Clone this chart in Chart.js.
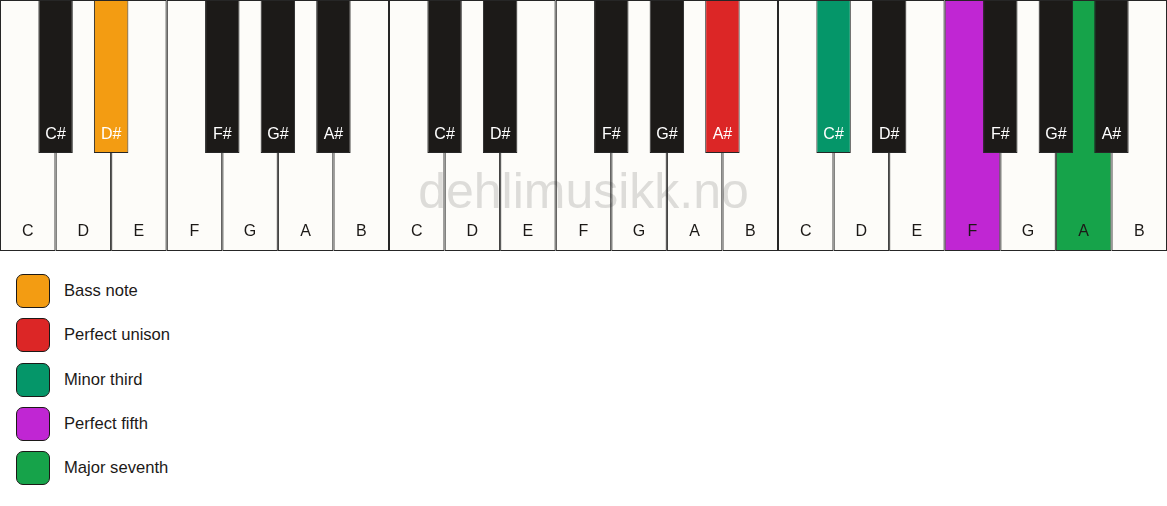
<!DOCTYPE html>
<html>
<head>
<meta charset="utf-8">
<title>Piano chord</title>
<script src="https://cdn.jsdelivr.net/npm/chart.js@4.4.1/dist/chart.umd.min.js"></script>
<style>
    body { margin: 0; background: #fff; font-family: 'Liberation Sans', Arial, sans-serif; }
    #keys { position: relative; width: 1167px; height: 251px; }
    #legend { margin: 23px 0 0 16px; }
    .item { display: flex; align-items: center; height: 34px; margin-bottom: 10.3px; font-size: 16.6px; color: #1c1917; }
    .swatch { width: 34px; height: 34px; box-sizing: border-box; border: 1.5px solid #1c1917; border-radius: 7px; margin-right: 14px; }
</style>
</head>
<body>
<div id="keys"><canvas id="pianoChart"></canvas></div>
<div id="legend"></div>
<script>
// keyboard: three octaves
const octaves = [1, 2, 3];
const whiteNames = ['C', 'D', 'E', 'F', 'G', 'A', 'B'];
const blackNames = ['C#', 'D#', 'F#', 'G#', 'A#'];
const blackAfter = [0, 1, 3, 4, 5]; // white key in the octave that each black key follows

// chord tones
const intervalNames = ['Bass note', 'Perfect unison', 'Minor third', 'Perfect fifth', 'Major seventh'];
const intervalNotes = ['D#1', 'A#2', 'C#3', 'F3', 'A3'];
const intervalColors = ['#f39c12', '#dc2626', '#059669', '#c026d3', '#16a34a'];

const blackLength = 0.61;
const ivory = '#fdfcf9';
const ebony = '#1c1a18';
const edge = '#262626';

function colorFor(id) {
    const i = intervalNotes.indexOf(id);
    return i >= 0 ? intervalColors[i] : null;
}

const whiteKeys = [];
const blackKeys = [];
octaves.forEach(function(o, oi) {
    whiteNames.forEach(function(n, i) {
        whiteKeys.push({ x: oi * 7 + i + 0.5, y: [0, 1], note: n, id: n + o });
    });
    blackNames.forEach(function(n, j) {
        blackKeys.push({ x: oi * 7 + blackAfter[j] + 1, y: [0, blackLength], note: n, id: n + o });
    });
});

// ivory background + watermark, under the keys' borders
const keyboardBackground = {
    id: 'keyboardBackground',
    beforeDatasetsDraw(chart) {
        const ctx = chart.ctx;
        const a = chart.chartArea;
        ctx.save();
        ctx.fillStyle = ivory;
        ctx.fillRect(a.left, a.top, a.width, a.height);
        ctx.fillStyle = '#dddcd9';
        ctx.font = '50px "Liberation Sans", Arial, sans-serif';
        ctx.textAlign = 'center';
        ctx.textBaseline = 'alphabetic';
        ctx.fillText('dehlimusikk.no', (a.left + a.right) / 2, a.top + a.height * 0.83);
        ctx.restore();
    }
};

// note names near the bottom of each key
const keyLabels = {
    id: 'keyLabels',
    afterDatasetsDraw(chart) {
        const ctx = chart.ctx;
        ctx.save();
        ctx.font = '16px "Liberation Sans", Arial, sans-serif';
        ctx.textAlign = 'center';
        ctx.textBaseline = 'middle';
        chart.data.datasets.forEach(function(ds, di) {
            chart.getDatasetMeta(di).data.forEach(function(bar, i) {
                const bottom = Math.max(bar.y, bar.base);
                ctx.fillStyle = ds.labelColor;
                ctx.fillText(ds.data[i].note, bar.x, bottom - 19);
            });
        });
        ctx.restore();
    }
};

new Chart(document.getElementById('pianoChart').getContext('2d'), {
    type: 'bar',
    data: {
        datasets: [{
            label: 'White keys',
            data: whiteKeys,
            backgroundColor: whiteKeys.map(k => colorFor(k.id) || 'rgba(0,0,0,0)'),
            borderColor: edge,
            borderWidth: 1,
            borderSkipped: false,
            grouped: false,
            categoryPercentage: 2,
            barPercentage: 1,
            labelColor: '#1c1917',
            order: 2
        }, {
            label: 'Black keys',
            data: blackKeys,
            backgroundColor: blackKeys.map(k => colorFor(k.id) || ebony),
            borderColor: edge,
            borderWidth: 1,
            borderSkipped: false,
            grouped: false,
            categoryPercentage: 2,
            barPercentage: 0.62,
            labelColor: '#ffffff',
            order: 1
        }]
    },
    options: {
        responsive: true,
        maintainAspectRatio: false,
        animation: false,
        layout: { padding: 0 },
        scales: {
            x: { type: 'linear', min: 0, max: 21, offset: false, display: false, ticks: { stepSize: 1 } },
            y: { min: 0, max: 1, reverse: true, display: false }
        },
        plugins: {
            legend: { display: false },
            tooltip: { enabled: false }
        }
    },
    plugins: [keyboardBackground, keyLabels]
});

// legend list under the keyboard
const legend = document.getElementById('legend');
intervalNames.forEach(function(name, i) {
    const item = document.createElement('div');
    item.className = 'item';
    const sw = document.createElement('div');
    sw.className = 'swatch';
    sw.style.background = intervalColors[i];
    const txt = document.createElement('span');
    txt.textContent = name;
    item.appendChild(sw);
    item.appendChild(txt);
    legend.appendChild(item);
});
</script>
</body>
</html>
